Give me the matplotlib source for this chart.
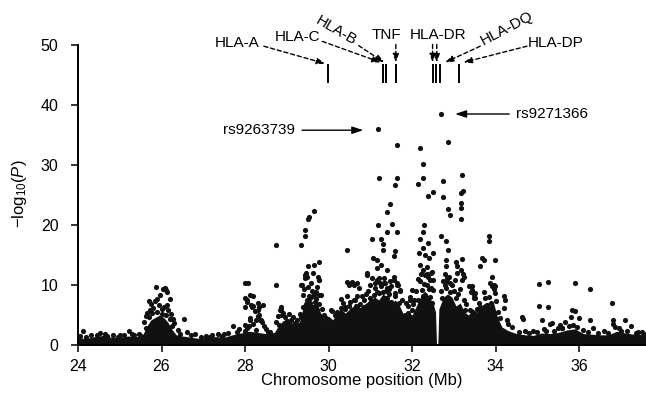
import matplotlib
matplotlib.use("Agg")
import matplotlib.pyplot as plt

plt.rcParams['font.family'] = ['Liberation Sans', 'DejaVu Sans']
plt.rcParams['mathtext.fontset'] = 'custom'
plt.rcParams['mathtext.rm'] = 'Liberation Sans'
plt.rcParams['mathtext.it'] = 'Liberation Sans:italic'

# dense body of SNPs (top of the solid black mass), position Mb -> -log10(P)
core = [(24.0, 1.2), (24.2, 1.1), (24.4, 1.4), (24.6, 1.6), (24.8, 1.3), (25.0, 1.3),
        (25.2, 1.5), (25.4, 1.4), (25.55, 1.7), (25.65, 3.2), (25.75, 4.2), (25.85, 4.6),
        (25.95, 5.0), (26.05, 4.6), (26.15, 3.8), (26.25, 2.6), (26.35, 1.7), (26.5, 1.5),
        (26.7, 1.3), (26.9, 1.1), (27.1, 1.3), (27.3, 1.4), (27.5, 1.3), (27.7, 1.7),
        (27.9, 2.0), (28.1, 2.3), (28.3, 2.1), (28.5, 1.9), (28.7, 2.1), (28.8, 3.2),
        (28.9, 4.0), (29.0, 4.3), (29.1, 3.8), (29.2, 3.3), (29.3, 3.8), (29.4, 6.5),
        (29.5, 7.5), (29.6, 6.5), (29.7, 7.5), (29.8, 5.5), (29.9, 4.2), (30.0, 4.8),
        (30.1, 4.2), (30.2, 5.3), (30.3, 6.0), (30.4, 5.3), (30.5, 6.0), (30.6, 6.5),
        (30.7, 6.0), (30.8, 6.5), (30.9, 7.0), (31.0, 7.5), (31.1, 8.0), (31.2, 7.5),
        (31.3, 8.5), (31.4, 8.0), (31.5, 7.0), (31.6, 7.5), (31.7, 6.5), (31.8, 5.0),
        (31.9, 5.5), (32.0, 5.0), (32.1, 6.5), (32.2, 8.0), (32.3, 9.0), (32.4, 8.0),
        (32.5, 7.0), (32.56, 5.5), (32.585, 0.0), (32.615, 0.0), (32.64, 6.0), (32.75, 8.0),
        (32.85, 8.5), (32.95, 8.0), (33.05, 6.5), (33.15, 7.0), (33.25, 5.5), (33.35, 5.0),
        (33.45, 6.0), (33.55, 5.5), (33.65, 6.5), (33.75, 7.0), (33.85, 6.5), (33.95, 7.0),
        (34.05, 4.5), (34.15, 3.0), (34.3, 2.4), (34.5, 1.9), (34.7, 1.7), (34.9, 1.6),
        (35.1, 2.0), (35.3, 1.9), (35.5, 2.1), (35.7, 2.5), (35.9, 2.7), (36.1, 1.9),
        (36.3, 1.8), (36.5, 1.7), (36.7, 1.7), (36.9, 2.3), (37.1, 2.0), (37.3, 1.8),
        (37.6, 1.7)]

# single SNPs readable above the dense body
snps_24_28 = [(24.11, 2.3), (24.3, 1.6), (24.53, 2.0), (24.65, 1.8), (24.84, 1.7),
              (25.0, 1.6), (25.22, 2.4), (25.35, 1.7), (25.45, 1.9), (24.05, 1.5),
              (24.2, 1.4), (24.45, 1.7), (24.7, 1.5), (24.95, 1.4), (25.1, 1.6),
              (25.3, 1.9), (25.5, 1.5),
              (25.86, 9.6), (26.04, 9.4), (26.1, 9.2), (26.12, 8.9), (26.08, 9.5),
              (25.96, 8.3), (26.2, 7.6), (25.84, 7.4), (25.9, 7.6), (25.69, 7.3),
              (25.72, 5.9), (25.8, 6.2), (25.62, 4.8), (25.66, 5.4), (25.95, 6.6),
              (26.0, 6.0), (26.05, 6.3), (26.15, 5.8), (26.22, 5.2), (26.27, 4.4),
              (26.3, 3.6), (25.58, 3.8), (25.75, 6.8), (26.12, 6.6), (26.53, 4.3),
              (25.7, 4.6), (25.78, 5.3), (25.88, 5.5), (26.0, 5.2), (26.1, 5.0),
              (26.2, 4.3), (26.25, 3.2), (25.62, 2.8),
              (26.4, 2.5), (26.6, 2.1), (26.8, 1.8), (27.07, 1.5), (27.2, 1.6),
              (27.35, 1.8), (27.5, 1.9), (26.45, 1.8), (26.7, 1.6), (26.95, 1.3),
              (27.15, 1.4), (27.45, 1.5), (27.6, 2.0), (27.8, 2.2)]
snps_28_30 = [(27.99, 10.3), (28.07, 10.3), (28.0, 7.8), (28.04, 7.55), (28.12, 8.3),
              (27.99, 6.4), (28.18, 6.55), (28.3, 5.9), (28.42, 6.6), (28.34, 5.05),
              (28.26, 4.2), (27.99, 3.4), (27.71, 3.1), (28.13, 4.5), (28.3, 4.8),
              (28.38, 4.2), (28.3, 7.0), (28.34, 6.3), (28.14, 6.6), (28.2, 3.5),
              (28.45, 3.2), (28.05, 2.8), (27.85, 2.6), (28.5, 2.6), (28.6, 2.2),
              (28.4, 3.8), (28.1, 3.2), (28.04, 7.2), (28.2, 8.1), (28.16, 6.4),
              (28.24, 5.6), (28.12, 4.2), (28.36, 4.2), (28.0, 2.3), (28.25, 2.5),
              (28.55, 2.1),
              (28.74, 16.7), (28.74, 10.05), (28.86, 6.4), (28.86, 5.9), (28.9, 5.3),
              (28.8, 4.8), (28.95, 4.7), (29.05, 5.1), (29.15, 4.6), (29.25, 4.2),
              (28.75, 3.9), (29.0, 4.0), (29.2, 3.6), (28.84, 5.8), (28.88, 5.0),
              (28.82, 3.3), (29.1, 4.2), (29.28, 3.4),
              (29.66, 22.3), (29.54, 21.3), (29.5, 21.05), (29.44, 19.2), (29.43, 18.1),
              (29.34, 16.7), (29.78, 13.8), (29.66, 13.3), (29.51, 13.1), (29.44, 11.7),
              (29.74, 11.4), (29.78, 10.9), (29.34, 10.05), (29.38, 8.4), (29.66, 8.4),
              (29.62, 8.1), (29.82, 8.4), (29.45, 12.0), (29.43, 11.2), (29.62, 12.0),
              (29.38, 6.4), (29.48, 7.5), (29.55, 7.9), (29.7, 7.6), (29.76, 6.8),
              (29.85, 6.0), (29.9, 5.0), (29.32, 5.2), (29.4, 9.3), (29.72, 9.6),
              (29.6, 9.0), (30.05, 5.9), (29.95, 4.5), (29.48, 11.4), (29.76, 10.8),
              (29.36, 10.0), (29.52, 8.1), (29.76, 8.3), (29.4, 6.4), (29.56, 7.0),
              (29.72, 5.8), (29.52, 4.7), (29.64, 3.6), (29.45, 6.9), (29.6, 6.4),
              (29.68, 7.1), (29.35, 4.6), (29.5, 9.6), (29.58, 10.4), (29.7, 8.9)]
snps_30_32 = [(30.45, 15.9), (30.45, 10.45), (30.57, 10.45), (30.67, 10.3), (30.73, 9.5),
              (30.69, 8.1), (30.61, 7.55), (30.35, 7.0), (30.3, 6.2), (30.5, 6.5),
              (30.75, 6.8), (30.85, 7.5), (30.15, 5.0), (30.2, 5.5), (30.4, 6.0),
              (30.55, 5.8), (30.65, 6.5), (30.9, 8.5), (30.08, 5.6), (30.2, 4.2),
              (30.28, 4.7), (30.48, 10.0), (30.6, 10.0), (30.44, 8.1), (30.64, 7.5),
              (30.4, 6.4), (30.68, 6.4), (30.84, 6.4), (30.78, 5.9), (30.52, 7.2),
              (30.3, 7.6), (30.8, 8.2),
              (31.18, 36.0), (31.63, 33.4), (31.21, 27.8), (31.64, 27.9), (31.59, 26.6),
              (31.47, 23.5), (31.41, 22.2), (31.19, 20.05), (31.53, 20.2), (31.41, 18.8),
              (31.65, 18.8), (31.05, 17.7), (31.25, 17.6), (31.31, 16.8), (31.31, 15.9),
              (31.6, 15.6), (31.57, 14.8), (31.07, 14.5), (31.17, 14.2), (31.17, 12.8),
              (31.41, 12.55), (31.25, 13.4), (30.93, 12.0), (31.05, 11.2), (31.2, 11.2),
              (31.33, 11.2), (31.57, 10.9), (31.65, 10.3), (31.0, 10.0), (31.1, 9.5),
              (31.25, 9.8), (31.4, 9.5), (31.5, 9.9), (31.7, 9.0), (31.35, 10.4),
              (31.15, 8.8), (31.45, 8.5), (31.6, 8.2), (31.75, 7.5), (30.95, 9.0),
              (31.3, 8.9), (31.0, 7.9), (30.92, 11.7), (31.16, 10.8), (31.32, 10.3),
              (31.44, 9.4), (31.56, 11.4), (31.64, 10.0), (31.08, 8.3), (31.2, 8.6),
              (31.4, 7.8), (31.6, 8.6), (31.0, 7.0), (31.28, 6.4), (31.56, 6.7),
              (31.68, 7.0), (31.12, 7.4), (31.35, 7.8), (31.5, 7.2), (31.22, 10.3),
              (31.46, 10.6), (31.1, 10.4), (31.38, 9.0),
              (31.85, 7.0), (31.9, 6.5), (32.0, 5.8), (32.05, 7.5), (31.95, 8.0),
              (31.67, 10.0), (31.71, 9.2), (31.99, 9.2), (31.95, 7.5), (32.03, 6.9),
              (31.82, 5.0), (31.9, 5.4)]
snps_32_34 = [(32.19, 32.9), (32.27, 30.2), (32.27, 27.8), (32.14, 26.9), (32.5, 25.5),
              (32.38, 24.9), (32.28, 20.05), (32.27, 18.9), (32.2, 17.7), (32.27, 16.2),
              (32.16, 15.3), (32.2, 13.4), (32.32, 11.7), (32.36, 10.05), (32.1, 9.0),
              (32.15, 11.0), (32.25, 12.5), (32.35, 13.0), (32.4, 14.5), (32.45, 12.0),
              (32.42, 10.8), (32.5, 15.3), (32.45, 9.5), (32.3, 15.0), (32.38, 17.0),
              (32.35, 11.9), (32.39, 11.4), (32.47, 12.2), (32.19, 10.6), (32.23, 9.2),
              (32.31, 8.3), (32.51, 10.8), (32.51, 9.2), (32.15, 7.5), (32.25, 8.2),
              (32.42, 8.0), (32.48, 7.0), (32.28, 10.2), (32.22, 11.8), (32.4, 9.4),
              (32.69, 38.5), (32.85, 33.8), (32.75, 27.3), (33.19, 28.3), (32.74, 24.7),
              (33.16, 25.3), (33.22, 25.6), (32.85, 22.6), (32.9, 21.7), (33.16, 23.7),
              (33.16, 22.8), (33.17, 21.05), (32.68, 18.2), (32.8, 17.3), (32.86, 15.9),
              (32.8, 14.2), (33.06, 13.8), (33.2, 14.4), (33.08, 13.1), (33.08, 12.0),
              (33.16, 12.55), (32.8, 13.1), (33.24, 11.4), (32.88, 11.4), (32.84, 10.6),
              (32.8, 9.5), (33.36, 9.8), (33.4, 8.9), (33.47, 8.4), (33.51, 7.8),
              (32.95, 10.0), (33.0, 9.0), (33.1, 8.5), (33.25, 7.5), (33.3, 6.8),
              (32.7, 9.0), (32.79, 11.9), (32.83, 11.1), (32.79, 10.0), (33.23, 11.9),
              (33.19, 10.8), (32.9, 8.8), (33.05, 7.8), (33.15, 9.4), (32.72, 7.8),
              (33.27, 5.8), (33.39, 5.8), (33.43, 9.2), (33.51, 8.6), (33.47, 7.8),
              (32.9, 10.4), (32.75, 10.6), (33.02, 10.9),
              (33.83, 18.1), (33.83, 17.3), (33.67, 14.5), (33.71, 14.2), (33.98, 14.2),
              (33.63, 13.1), (33.91, 11.4), (33.95, 10.05), (33.91, 9.8), (33.99, 9.8),
              (33.71, 8.9), (33.75, 7.8), (33.79, 6.7), (34.19, 8.1), (34.19, 6.2),
              (33.43, 9.8), (33.47, 8.7), (33.6, 7.0), (33.85, 8.0), (34.05, 5.5),
              (34.1, 4.5), (34.3, 3.5), (34.4, 3.0), (33.87, 10.3), (33.95, 9.4),
              (33.99, 8.6), (34.22, 7.5), (33.63, 6.4), (33.75, 5.8), (34.26, 4.2),
              (33.9, 7.0), (34.0, 7.4), (33.55, 6.0)]
snps_34_38 = [(35.05, 10.2), (35.26, 10.45), (35.9, 10.3), (36.26, 9.3), (36.79, 7.0),
              (35.05, 6.45), (35.25, 6.3), (34.63, 4.7), (35.84, 5.9), (35.9, 5.6),
              (36.0, 4.5), (35.8, 4.7), (36.26, 4.2), (37.09, 4.2), (36.82, 4.2),
              (35.1, 4.2), (35.3, 3.5), (35.55, 3.4), (35.65, 3.8), (35.75, 3.2),
              (35.5, 2.8), (36.34, 2.8), (37.25, 3.1), (36.8, 3.5), (36.85, 3.0),
              (34.7, 2.4), (34.9, 2.3), (35.15, 2.7), (36.6, 2.3), (37.0, 2.4),
              (37.4, 2.2), (37.55, 1.9), (36.1, 2.5), (35.95, 3.0), (34.66, 4.4),
              (35.34, 3.6), (35.58, 2.8), (34.55, 2.2), (34.8, 2.0), (35.0, 2.2),
              (35.2, 2.4), (35.4, 2.3), (35.6, 2.9), (35.85, 3.3), (36.2, 2.2),
              (36.45, 2.0), (36.7, 2.0), (36.95, 2.8), (37.15, 2.3), (37.35, 2.0),
              (37.5, 2.1)]

# HLA genes: tick marks above the plot
gene_bars = [29.99, 31.31, 31.38, 31.62, 32.50, 32.58, 32.66, 33.13]
# label, text x, text y, rotation, arrow start, arrow tip
gene_labels = [("HLA-A", 27.81, 50.3, 0, (28.45, 49.8), (29.92, 46.9)),
               ("HLA-C", 29.25, 51.4, 0, (29.85, 50.6), (31.25, 47.1)),
               ("HLA-B", 30.18, 52.4, -30, (30.72, 49.9), (31.33, 47.1)),
               ("TNF", 31.39, 51.6, 0, (31.61, 50.1), (31.61, 47.1)),
               ("HLA-DR", 32.62, 51.6, 0, (32.49, 50.1), (32.49, 47.1)),
               ("", 0, 0, 0, (32.59, 50.1), (32.59, 47.1)),
               ("HLA-DQ", 34.27, 52.7, 28, (33.63, 49.8), (32.79, 47.1)),
               ("HLA-DP", 35.43, 50.4, 0, (34.75, 49.8), (33.23, 47.1))]

fig = plt.figure(figsize=(6.46, 3.96), dpi=100)
ax = fig.add_axes([78 / 646, 51 / 396, 568 / 646, 345 / 396])

core_x, core_y = zip(*core)
ax.fill_between(core_x, 0, core_y, color='#111111', lw=0)
for group in [snps_24_28, snps_28_30, snps_30_32, snps_32_34, snps_34_38]:
    gx, gy = zip(*group)
    ax.scatter(gx, gy, s=14, color='#111111', linewidths=0, zorder=3)

ax.vlines(gene_bars, 43.7, 46.8, color='black', lw=1.4)
for label, tx, ty, rot, start, tip in gene_labels:
    if label:
        ax.text(tx, ty, label, fontsize=11, ha='center', va='center', rotation=rot)
    ax.annotate('', xy=tip, xytext=start,
                arrowprops=dict(arrowstyle='-|>,head_length=0.5,head_width=0.18',
                                ls=(0, (3, 2)), lw=1.0, color='black',
                                shrinkA=0, shrinkB=0))

# highlighted SNPs
ax.annotate('rs9263739', xy=(30.83, 35.8), xytext=(29.2, 35.8), fontsize=11,
            ha='right', va='center',
            arrowprops=dict(arrowstyle='-|>,head_length=0.6,head_width=0.2',
                            lw=1.0, color='black', shrinkA=3, shrinkB=0))
ax.annotate('rs9271366', xy=(33.03, 38.5), xytext=(34.49, 38.5), fontsize=11,
            ha='left', va='center',
            arrowprops=dict(arrowstyle='-|>,head_length=0.6,head_width=0.2',
                            lw=1.0, color='black', shrinkA=3, shrinkB=0))

ax.set_xlim(24, 37.6)
ax.set_ylim(0, 57.5)
ax.set_xticks([24, 26, 28, 30, 32, 34, 36])
ax.set_yticks([0, 10, 20, 30, 40, 50])
ax.spines['top'].set_visible(False)
ax.spines['right'].set_visible(False)
ax.spines['left'].set_bounds(0, 50)
for side in ['left', 'bottom']:
    ax.spines[side].set_linewidth(1.4)
ax.tick_params(length=5, width=1.1, labelsize=11.5)
ax.tick_params(axis='x', pad=5)
ax.tick_params(axis='y', pad=9)
ax.set_xlabel('Chromosome position (Mb)', fontsize=12)
ax.set_ylabel(r'$-$log$_{10}$($P$)', fontsize=12)
ax.xaxis.set_label_coords(0.5, -0.08)
ax.yaxis.set_label_coords(-0.087, 0.44)

fig.savefig('out.png', dpi=100)
